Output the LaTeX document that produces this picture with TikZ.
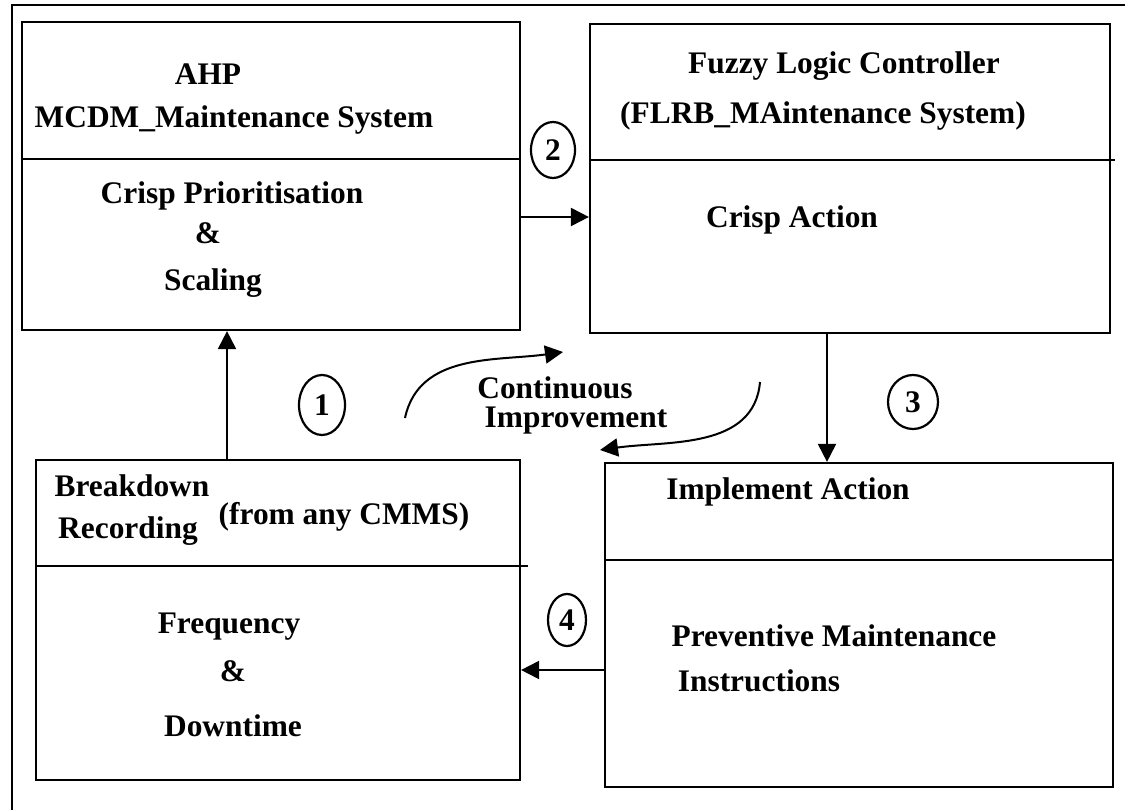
\documentclass[tikz,border=0pt]{standalone}
\usepackage{fontspec}
\setmainfont{Liberation Serif}
\usetikzlibrary{arrows.meta,shapes.geometric}
\begin{document}
\begin{tikzpicture}[x=1pt,y=-1pt,
  boxx/.style={draw,line width=2.2pt,rectangle,inner sep=0pt},
  divl/.style={line width=2.2pt},
  lbl/.style={font=\fontsize{31.4}{36}\selectfont\bfseries,inner sep=0pt,anchor=base},
  numc/.style={draw,ellipse,line width=2.2pt,inner sep=0pt,font=\fontsize{31.4}{36}\selectfont\bfseries},
  arr/.style={line width=2pt,-{Triangle[length=18pt,width=18pt]}}]
\useasboundingbox (0,0) rectangle (1125,810);
% outer frame (only top and left visible)
\coordinate (fr1) at (12,810);
\coordinate (fr2) at (12,5);
\coordinate (fr3) at (1125,5);
\draw[line width=2pt] (fr1) -- (fr2) -- (fr3);
% boxes
\node[boxx,minimum width=498pt,minimum height=308pt] (b1) at (271,176) {};
\node[boxx,minimum width=520pt,minimum height=309pt] (b2) at (850,178.5) {};
\node[boxx,minimum width=484pt,minimum height=320pt] (b3) at (278,620) {};
\node[boxx,minimum width=508pt,minimum height=324pt] (b4) at (859,625) {};
% dividers
\coordinate (d1) at (0,159);
\coordinate (d2) at (0,160);
\coordinate (d3) at (0,566);
\coordinate (d4) at (0,560);
\coordinate (d2e) at (1115,160);
\coordinate (d3e) at (528,566);
\draw[divl] (b1.west |- d1) -- (b1.east |- d1);
\draw[divl] (b2.west |- d2) -- (d2e);
\draw[divl] (b3.west |- d3) -- (d3e);
\draw[divl] (b4.west |- d4) -- (b4.east |- d4);
% texts box 1
\node[lbl] (t1a) at (208,85) {AHP};
\node[lbl] (t1b) at (234,128) {MCDM\_Maintenance System};
\node[lbl] (t1c) at (232,204) {Crisp Prioritisation};
\node[lbl] (t1d) at (208,244) {\&};
\node[lbl] (t1e) at (213,291) {Scaling};
% texts box 2
\node[lbl] (t2a) at (844,74) {Fuzzy Logic Controller};
\node[lbl] (t2b) at (823,124) {(FLRB\_MAintenance System)};
\node[lbl] (t2c) at (792,228) {Crisp Action};
% texts box 3
\node[lbl] (t3a) at (132,496) {Breakdown};
\node[lbl] (t3b) at (128,538) {Recording};
\node[lbl] (t3c) at (344,524) {(from any CMMS)};
\node[lbl] (t3d) at (229,633) {Frequency};
\node[lbl] (t3e) at (233,681) {\&};
\node[lbl] (t3f) at (233,736) {Downtime};
% texts box 4
\node[lbl] (t4a) at (788,499) {Implement Action};
\node[lbl] (t4b) at (834,646) {Preventive Maintenance};
\node[lbl] (t4c) at (759,691) {Instructions};
% continuous improvement
\node[lbl] (ci1) at (555,399) {Continuous};
\node[lbl] (ci2) at (576,428) {Improvement};
% numbered circles
\node[numc,minimum width=46pt,minimum height=60pt] (c1) at (322,405) {1};
\node[numc,minimum width=44pt,minimum height=56pt] (c2) at (553,150) {2};
\node[numc,minimum width=50pt,minimum height=54pt] (c3) at (913,402) {3};
\node[numc,minimum width=38pt,minimum height=52pt] (c4) at (567,620) {4};
% connectors
\coordinate (x1) at (227,0);
\coordinate (y2) at (0,217);
\coordinate (x3) at (827,0);
\coordinate (y4) at (0,670);
\draw[arr] (b3.north -| x1) -- (b1.south -| x1);
\draw[arr] (b1.east |- y2) -- (b2.west |- y2);
\draw[arr] (b2.south -| x3) -- (b4.north -| x3);
\draw[arr] (b4.west |- y4) -- (b3.east |- y4);
% curved arrows
\coordinate (cs1) at (405,418);
\coordinate (ce1) at (563,352);
\coordinate (cs2) at (760,382);
\coordinate (ce2) at (600,450);
\draw[arr] (cs1) to[out=78,in=188] (ce1);
\draw[arr] (cs2) to[out=-95,in=8] (ce2);
\end{tikzpicture}
\end{document}
